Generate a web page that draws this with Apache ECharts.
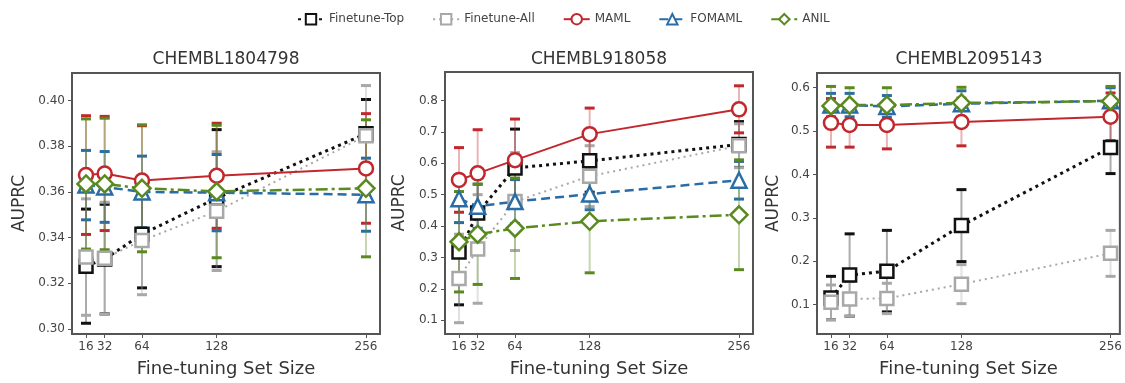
<!DOCTYPE html>
<html><head><meta charset="utf-8">
<script src="https://cdn.jsdelivr.net/npm/echarts@6/dist/echarts.min.js"></script>
<style>html,body{margin:0;padding:0;background:#fff}#c{width:1125px;height:383px}</style>
</head><body><div id="c"></div><script>
// ---------- data ----------
const sizes = [16, 32, 64, 128, 256];
const xTicks = [16, 32, 64, 128, 256];
const methods = ['Finetune-Top', 'Finetune-All', 'MAML', 'FOMAML', 'ANIL'];
const titles = ['CHEMBL1804798', 'CHEMBL918058', 'CHEMBL2095143'];
const yTicks1 = [0.30, 0.32, 0.34, 0.36, 0.38, 0.40];
const yTicks2 = [0.1, 0.2, 0.3, 0.4, 0.5, 0.6, 0.7, 0.8];
const yTicks3 = [0.1, 0.2, 0.3, 0.4, 0.5, 0.6];

// CHEMBL1804798
const p1Top = [0.3275, 0.3306, 0.3415, 0.3573, 0.3855];
const p1TopErr = [0.025, 0.024, 0.0235, 0.030, 0.015];
const p1All = [0.3315, 0.3310, 0.3387, 0.3516, 0.3846];
const p1AllErr = [0.0255, 0.0245, 0.0237, 0.026, 0.022];
const p1Maml = [0.3674, 0.3681, 0.3650, 0.3671, 0.3703];
const p1MamlErr = [0.026, 0.025, 0.024, 0.023, 0.024];
const p1Fomaml = [0.3630, 0.3622, 0.3600, 0.3597, 0.3588];
const p1FomamlErr = [0.0152, 0.0155, 0.0157, 0.0167, 0.016];
const p1Anil = [0.3635, 0.3635, 0.3616, 0.3602, 0.3616];
const p1AnilErr = [0.0285, 0.0288, 0.0278, 0.029, 0.030];

// CHEMBL918058
const p2Top = [0.317, 0.442, 0.585, 0.608, 0.660];
const p2TopErr = [0.168, 0.13, 0.124, 0.10, 0.073];
const p2All = [0.233, 0.327, 0.478, 0.559, 0.656];
const p2AllErr = [0.141, 0.173, 0.156, 0.097, 0.07];
const p2Maml = [0.547, 0.568, 0.610, 0.693, 0.772];
const p2MamlErr = [0.103, 0.139, 0.131, 0.083, 0.075];
const p2Fomaml = [0.487, 0.463, 0.478, 0.502, 0.546];
const p2FomamlErr = [0.076, 0.07, 0.07, 0.05, 0.06];
const p2Anil = [0.350, 0.374, 0.393, 0.415, 0.436];
const p2AnilErr = [0.16, 0.16, 0.16, 0.164, 0.175];

// CHEMBL2095143
const p3Top = [0.115, 0.168, 0.177, 0.282, 0.462];
const p3TopErr = [0.05, 0.095, 0.094, 0.083, 0.06];
const p3All = [0.105, 0.113, 0.114, 0.147, 0.218];
const p3AllErr = [0.04, 0.04, 0.035, 0.045, 0.053];
const p3Maml = [0.519, 0.514, 0.514, 0.521, 0.533];
const p3MamlErr = [0.056, 0.051, 0.055, 0.055, 0.055];
const p3Fomaml = [0.560, 0.560, 0.557, 0.563, 0.570];
const p3FomamlErr = [0.027, 0.027, 0.025, 0.03, 0.03];
const p3Anil = [0.558, 0.560, 0.560, 0.565, 0.569];
const p3AnilErr = [0.045, 0.04, 0.04, 0.036, 0.034];

// ---------- build ----------
const panels = [
  {means: [p1Top, p1All, p1Maml, p1Fomaml, p1Anil], errs: [p1TopErr, p1AllErr, p1MamlErr, p1FomamlErr, p1AnilErr],
   ticks: yTicks1, dec: 2, ymin: 0.2978, ymax: 0.4121, xmin: 4, xmax: 268,
   grid: {left: 72, top: 73, width: 308, height: 265}, nameGap: 44, cx: 226},
  {means: [p2Top, p2All, p2Maml, p2Fomaml, p2Anil], errs: [p2TopErr, p2AllErr, p2MamlErr, p2FomamlErr, p2AnilErr],
   ticks: yTicks2, dec: 1, ymin: 0.056, ymax: 0.891, xmin: 4, xmax: 268,
   grid: {left: 445, top: 72, width: 308, height: 266}, nameGap: 37, cx: 599},
  {means: [p3Top, p3All, p3Maml, p3Fomaml, p3Anil], errs: [p3TopErr, p3AllErr, p3MamlErr, p3FomamlErr, p3AnilErr],
   ticks: yTicks3, dec: 1, ymin: 0.032, ymax: 0.634, xmin: 4, xmax: 264,
   grid: {left: 817, top: 73, width: 304, height: 265}, nameGap: 35, cx: 969}
];

const FONT = 'DejaVu Sans';
const styles = [
  {color: '#111111', line: {type: [3, 4], width: 3}, symbol: 'rect', size: 13},
  {color: '#a8a8a8', line: {type: [2, 4], width: 2}, symbol: 'rect', size: 13},
  {color: '#c1272d', line: {type: 'solid', width: 2}, symbol: 'circle', size: 14},
  {color: '#2a6ca6', line: {type: [9, 5], width: 2.5}, symbol: 'triangle', size: 15},
  {color: '#5a8a1f', line: {type: [12, 4, 3, 4], width: 2.5}, symbol: 'diamond', size: 17}
];

function renderErr(color) {
  return function (params, api) {
    const x = api.value(0), lo = api.value(1), hi = api.value(2);
    const a = api.coord([x, lo]), b = api.coord([x, hi]);
    const w = 5;
    return {type: 'group', children: [
      {type: 'line', shape: {x1: a[0], y1: a[1], x2: b[0], y2: b[1]}, style: {stroke: color, lineWidth: 2, opacity: 0.35}},
      {type: 'line', shape: {x1: a[0] - w, y1: a[1], x2: a[0] + w, y2: a[1]}, style: {stroke: color, lineWidth: 3}},
      {type: 'line', shape: {x1: b[0] - w, y1: b[1], x2: b[0] + w, y2: b[1]}, style: {stroke: color, lineWidth: 3}}
    ]};
  };
}

const grids = [], xAxes = [], yAxes = [], series = [], graphics = [];
panels.forEach((p, i) => {
  grids.push(Object.assign({show: true, borderColor: '#555', borderWidth: 2, backgroundColor: '#fff'}, p.grid));
  xAxes.push({
    type: 'value', gridIndex: i, min: p.xmin, max: p.xmax,
    name: 'Fine-tuning Set Size', nameLocation: 'middle', nameGap: 26,
    nameTextStyle: {fontFamily: FONT, fontSize: 18, color: '#333'},
    axisLine: {show: false}, splitLine: {show: false},
    axisTick: {show: true, customValues: xTicks, length: 4, lineStyle: {color: '#555'}},
    axisLabel: {customValues: xTicks, fontFamily: FONT, fontSize: 12, color: '#444', margin: 7}
  });
  yAxes.push({
    type: 'value', gridIndex: i, min: p.ymin, max: p.ymax,
    name: 'AUPRC', nameLocation: 'middle', nameGap: p.nameGap,
    nameTextStyle: {fontFamily: FONT, fontSize: 17, color: '#333'},
    axisLine: {show: false}, splitLine: {show: false},
    axisTick: {show: true, customValues: p.ticks, length: 4, lineStyle: {color: '#555'}},
    axisLabel: {customValues: p.ticks, fontFamily: FONT, fontSize: 12, color: '#444', margin: 7,
      formatter: v => Number(v).toFixed(p.dec)}
  });
  graphics.push({type: 'text', x: p.cx, y: 60, style: {text: titles[i], fontFamily: FONT, fontSize: 17,
    fill: '#333', align: 'center', verticalAlign: 'middle'}});
  // error bars first
  methods.forEach((m, j) => {
    series.push({
      type: 'custom', name: m + ' err', xAxisIndex: i, yAxisIndex: i, z: 1,
      encode: {x: 0, y: [1, 2]},
      renderItem: renderErr(styles[j].color),
      data: sizes.map((s, k) => [s, p.means[j][k] - p.errs[j][k], p.means[j][k] + p.errs[j][k]])
    });
  });
});
panels.forEach((p, i) => {
  methods.forEach((m, j) => {
    const st = styles[j];
    series.push({
      type: 'line', name: m, xAxisIndex: i, yAxisIndex: i, z: 3,
      data: sizes.map((s, k) => [s, p.means[j][k]]),
      symbol: st.symbol, symbolSize: st.size, showAllSymbol: true,
      lineStyle: {color: st.color, width: st.line.width, type: st.line.type, cap: 'butt'},
      itemStyle: {color: '#fff', borderColor: st.color, borderWidth: 2.5},
      emphasis: {disabled: true}
    });
  });
});

const chart = echarts.init(document.getElementById('c'));
chart.setOption({
  animation: false,
  backgroundColor: '#fff',
  legend: {
    data: methods, left: 292, top: 8, itemWidth: 26, itemHeight: 13, itemGap: 28,
    textStyle: {fontFamily: FONT, fontSize: 12, color: '#444'}
  },
  grid: grids, xAxis: xAxes, yAxis: yAxes, series: series, graphic: graphics
});
</script></body></html>
